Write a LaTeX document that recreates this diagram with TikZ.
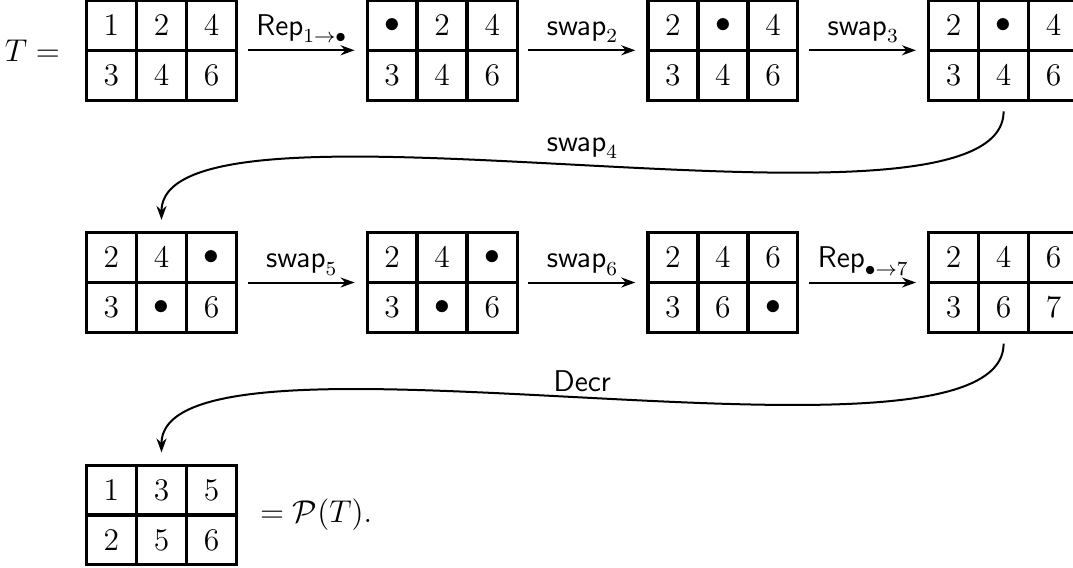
\RequirePackage{fix-cm}
\documentclass[tikz,border=0pt]{standalone}
\usetikzlibrary{matrix}
\usetikzlibrary{positioning}
\usetikzlibrary{arrows.meta}

\begin{document}
\begin{tikzpicture}[x=0.4pt,y=0.4pt]
    \tikzset{
      tableau/.style={
        matrix of math nodes,
        draw,
        line width=1.1pt,
        inner sep=0pt,
        outer sep=0pt,
        nodes={
          draw,
          anchor=center,
          line width=0.7pt,
          minimum size=19.33pt,
          inner sep=0pt,
          outer sep=0pt,
          font=\fontsize{12.6}{15}\selectfont
        }
      },
      conn/.style={
        -{Stealth[length=5.6pt,width=4pt]},
        line width=0.8pt,
        shorten <=4.4pt,
        shorten >=5pt
      },
      lab/.style={font=\fontsize{12}{14}\selectfont,inner sep=2.6pt}
    }

    \useasboundingbox (0,0) rectangle (1073,-567);

    %First row
    \matrix[tableau] (t1) at (161.5,-50.3) {1 & 2 & 4\\ 3 & 4 & 6\\};
    \matrix[tableau] (t2) at (442.2,-50.3) {\bullet & 2 & 4\\ 3 & 4 & 6\\};
    \matrix[tableau] (t3) at (722.9,-50.3) {2 & \bullet & 4\\ 3 & 4 & 6\\};
    \matrix[tableau] (t4) at (1003.6,-50.3) {2 & \bullet & 4\\ 3 & 4 & 6\\};

    %Second row
    \matrix[tableau] (t5) at (161.5,-282.5) {2 & 4 & \bullet\\ 3 & \bullet & 6\\};
    \matrix[tableau] (t6) at (442.2,-282.5) {2 & 4 & \bullet\\ 3 & \bullet & 6\\};
    \matrix[tableau] (t7) at (722.9,-282.5) {2 & 4 & 6\\ 3 & 6 & \bullet\\};
    \matrix[tableau] (t8) at (1003.6,-282.5) {2 & 4 & 6\\ 3 & 6 & 7\\};

    %Last row
    \matrix[tableau] (t9) at (161.5,-515) {1 & 3 & 5\\ 2 & 5 & 6\\};

    %Left and right hand sides
    \node[left=10.4pt of t1,inner sep=0pt,font=\fontsize{12.6}{15}\selectfont] (lhs) {$T =$};
    \node[right=9.2pt of t9,inner sep=0pt,font=\fontsize{12.6}{15}\selectfont] (rhs) {$=\mathcal{P}(T).$};

    %Straight steps
    \draw[conn] (t1) -- node[lab,above] {$\mathsf{Rep}_{1\to\bullet}$} (t2);
    \draw[conn] (t2) -- node[lab,above] {$\mathsf{swap}_2$} (t3);
    \draw[conn] (t3) -- node[lab,above] {$\mathsf{swap}_3$} (t4);
    \draw[conn] (t5) -- node[lab,above] {$\mathsf{swap}_5$} (t6);
    \draw[conn] (t6) -- node[lab,above] {$\mathsf{swap}_6$} (t7);
    \draw[conn] (t7) -- node[lab,above] {$\mathsf{Rep}_{\bullet\to7}$} (t8);

    %Curved steps
    \draw[conn] (t4.south) to[out=-90,in=90,looseness=0.48] node[lab,above] {$\mathsf{swap}_4$} (t5.north);
    \draw[conn] (t8.south) to[out=-90,in=90,looseness=0.48] node[lab,above] {$\mathsf{Decr}$} (t9.north);
\end{tikzpicture}
\end{document}
